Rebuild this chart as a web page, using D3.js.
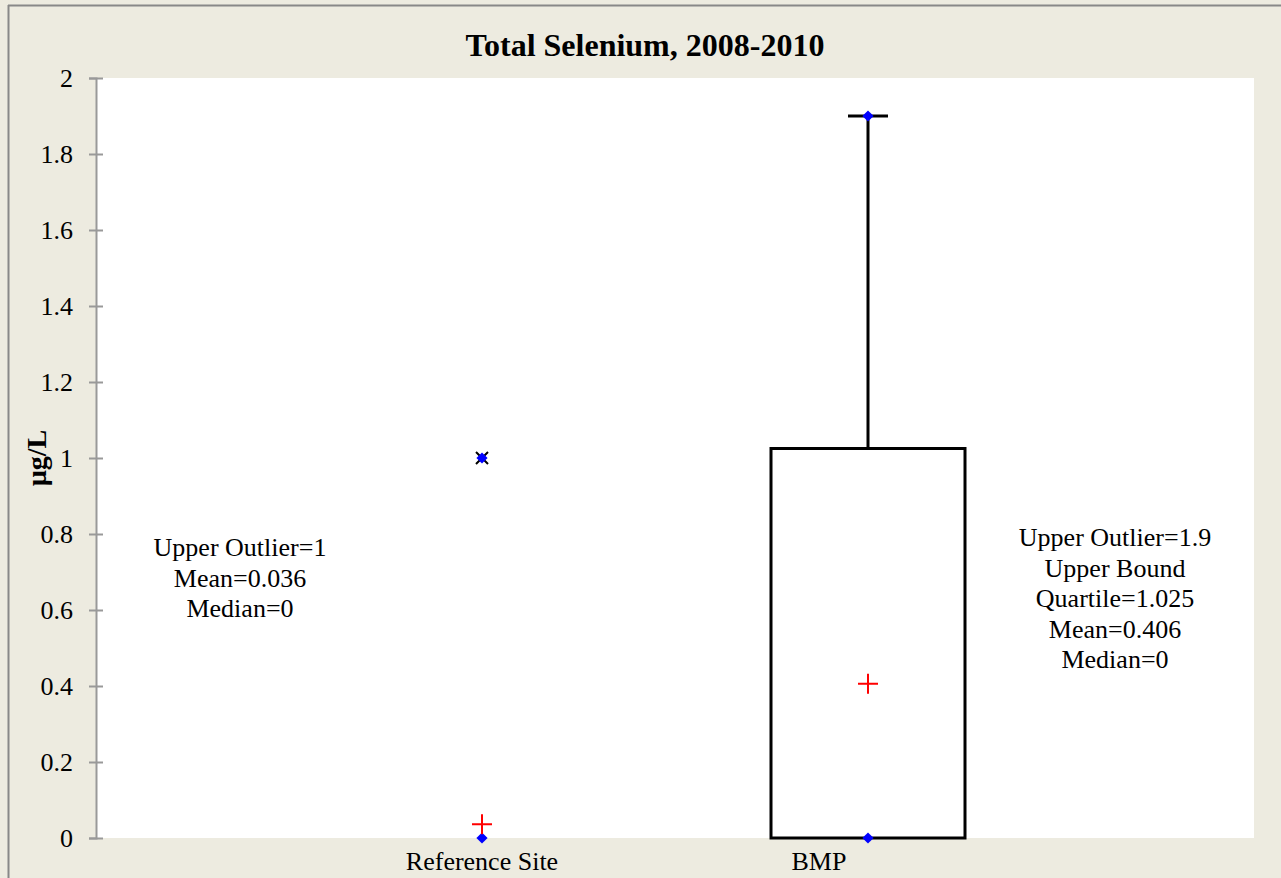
<!DOCTYPE html>
<html>
<head>
<meta charset="utf-8">
<script src="https://cdn.jsdelivr.net/npm/d3@7"></script>
<style>
  body { margin: 0; background: #fff; }
  svg { display: block; font-family: "Liberation Serif", "Times New Roman", serif; }
</style>
</head>
<body>
<div id="chart"></div>
<script>
// data
var sites = ["Reference Site", "BMP"];
var q1 = [0, 0];
var q3 = [0, 1.025];
var medians = [0, 0];
var means = [0.036, 0.406];
var upperWhisker = [null, 1.9];
var outliers = [[1], []];
var notes = [
  ["Upper Outlier=1", "Mean=0.036", "Median=0"],
  ["Upper Outlier=1.9", "Upper Bound", "Quartile=1.025", "Mean=0.406", "Median=0"]
];
var yTicks = [0, 0.2, 0.4, 0.6, 0.8, 1, 1.2, 1.4, 1.6, 1.8, 2];

var W = 1281, H = 878;
var m = { left: 96, right: 27, top: 78, bottom: 40 };

var svg = d3.select("#chart").append("svg")
    .attr("width", W)
    .attr("height", H);

svg.append("rect")
    .attr("width", W).attr("height", H)
    .attr("fill", "#edebe0");
// frame edges
svg.append("line").attr("x1", 8.5).attr("x2", 8.5).attr("y1", 5).attr("y2", H)
    .attr("stroke", "#888").attr("stroke-width", 2);
svg.append("line").attr("x1", 8).attr("x2", W).attr("y1", 5.5).attr("y2", 5.5)
    .attr("stroke", "#888").attr("stroke-width", 2);

var x = d3.scalePoint()
    .domain(["_a"].concat(sites, ["_b"]))
    .range([m.left, W - m.right]);

var y = d3.scaleLinear()
    .domain([0, 2])
    .range([H - m.bottom, m.top]);

svg.append("rect")
    .attr("x", m.left).attr("y", m.top)
    .attr("width", W - m.right - m.left)
    .attr("height", H - m.bottom - m.top)
    .attr("fill", "#fff");

// title
svg.append("text")
    .attr("x", 645).attr("y", 56)
    .attr("text-anchor", "middle")
    .style("font-size", "32px").style("font-weight", "bold")
    .text("Total Selenium, 2008-2010");

// y axis
var yAxis = svg.append("g")
    .attr("transform", "translate(" + m.left + ",0)")
    .call(d3.axisLeft(y).tickValues(yTicks).tickSize(7).tickPadding(13).tickFormat(d3.format("")));
yAxis.select(".domain").attr("stroke", "#999").attr("stroke-width", 2);
yAxis.selectAll(".tick line").attr("stroke", "#999").attr("stroke-width", 2).attr("x2", 7).attr("x1", -7);
yAxis.selectAll(".tick text")
    .attr("x", -23)
    .style("font-size", "26px").style("font-family", "Liberation Serif, serif").attr("fill", "#000");

svg.append("text")
    .attr("transform", "translate(46," + y(1) + ") rotate(-90)")
    .attr("text-anchor", "middle")
    .style("font-size", "28px").style("font-weight", "bold")
    .text("µg/L");

// category labels
var labelShift = [0, -49];
svg.selectAll("text.cat")
    .data(sites)
  .enter().append("text")
    .attr("class", "cat")
    .attr("x", function (d, i) { return x(d) + labelShift[i]; })
    .attr("y", 870)
    .attr("text-anchor", "middle")
    .style("font-size", "26px")
    .text(function (d) { return d; });

var bw = 194;

var box = svg.selectAll("g.box")
    .data(sites)
  .enter().append("g")
    .attr("class", "box");

// whiskers
box.each(function (d, i) {
  if (upperWhisker[i] == null) return;
  var g = d3.select(this);
  g.append("line")
      .attr("x1", x(d)).attr("x2", x(d))
      .attr("y1", y(q3[i])).attr("y2", y(upperWhisker[i]))
      .attr("stroke", "#000").attr("stroke-width", 3);
  g.append("line")
      .attr("x1", x(d) - 20).attr("x2", x(d) + 20)
      .attr("y1", y(upperWhisker[i])).attr("y2", y(upperWhisker[i]))
      .attr("stroke", "#000").attr("stroke-width", 3);
});

box.append("rect")
    .attr("x", function (d) { return x(d) - bw / 2; })
    .attr("y", function (d, i) { return y(q3[i]); })
    .attr("width", bw)
    .attr("height", function (d, i) { return Math.max(0, y(q1[i]) - y(q3[i])); })
    .attr("fill", "none")
    .attr("stroke", "#000").attr("stroke-width", 3);

var diamond = d3.symbol(d3.symbolDiamond2, 80)();

// outliers: black x with blue diamond
box.each(function (d, i) {
  var g = d3.select(this);
  outliers[i].forEach(function (v) {
    g.append("path")
        .attr("d", "M-6,-6L6,6M-6,6L6,-6")
        .attr("transform", "translate(" + x(d) + "," + y(v) + ")")
        .attr("stroke", "#000").attr("stroke-width", 2);
    g.append("path")
        .attr("d", diamond)
        .attr("transform", "translate(" + x(d) + "," + y(v) + ")")
        .attr("fill", "#0000ff");
  });
});

// blue diamonds at median and upper whisker
box.each(function (d, i) {
  var g = d3.select(this);
  var pts = [medians[i]];
  if (upperWhisker[i] != null) pts.push(upperWhisker[i]);
  pts.forEach(function (v) {
    g.append("path")
        .attr("d", diamond)
        .attr("transform", "translate(" + x(d) + "," + y(v) + ")")
        .attr("fill", "#0000ff");
  });
});

// means as red plus
box.append("path")
    .attr("d", "M-10,0H10M0,-10V10")
    .attr("transform", function (d, i) { return "translate(" + x(d) + "," + y(means[i]) + ")"; })
    .attr("stroke", "#ff0000").attr("stroke-width", 2);

// notes
var notePos = [[240, 556], [1115, 546]];
notes.forEach(function (lines, i) {
  var t = svg.append("text")
      .attr("text-anchor", "middle")
      .style("font-size", "26px");
  t.selectAll("tspan")
      .data(lines)
    .enter().append("tspan")
      .attr("x", notePos[i][0])
      .attr("y", function (d, k) { return notePos[i][1] + k * 30.5; })
      .text(function (d) { return d; });
});
</script>
</body>
</html>
